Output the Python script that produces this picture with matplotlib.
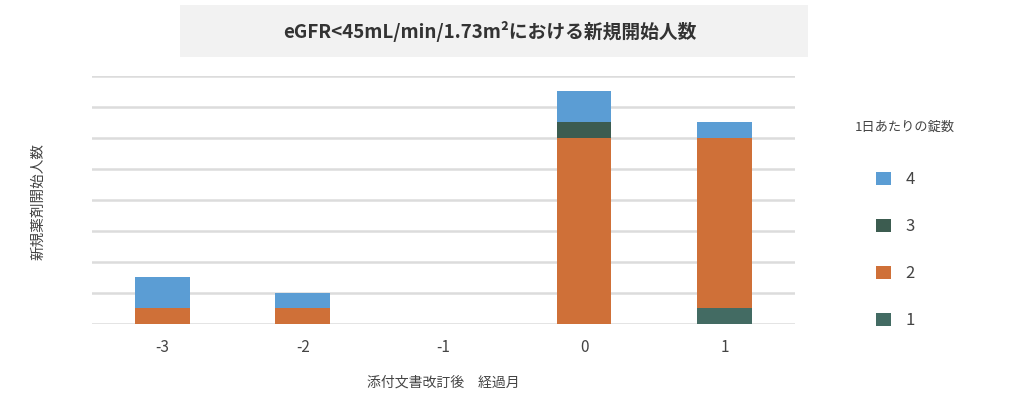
import numpy as np
import matplotlib.pyplot as plt
from matplotlib.patches import Rectangle, Patch

plt.rcParams['font.family'] = ['Noto Sans CJK JP', 'DejaVu Sans']

# データ
months = ['-3', '-2', '-1', '0', '1']
tab1 = [0, 0, 0, 0, 1]
tab2 = [1, 1, 0, 12, 11]
tab3 = [0, 0, 0, 1, 0]
tab4 = [2, 1, 0, 2, 1]
series_labels = ['1', '2', '3', '4']
colors = ['#436b63', '#cf7038', '#3c5c50', '#5b9dd4']

fig = plt.figure(figsize=(10.24, 4.12), dpi=100)
ax = fig.add_axes([0.0898, 0.2136, 0.6865, 0.602])

x = np.arange(len(months))
bottom = np.zeros(len(months))
for vals, c in zip([tab1, tab2, tab3, tab4], colors):
    ax.bar(x, vals, width=0.39, bottom=bottom, color=c, zorder=3)
    bottom += np.array(vals)

ax.set_xlim(-0.5, 4.5)
ax.set_ylim(0, 16)
ax.set_yticks(np.arange(0, 17, 2))
ax.set_yticklabels([])
ax.tick_params(axis='y', length=0)
ax.tick_params(axis='x', length=0, labelsize=11, colors='#444444', pad=11)
ax.set_xticks(x)
ax.set_xticklabels(months)
ax.grid(axis='y', color='#dcdcdc', linewidth=1.8, zorder=0)
for s in ax.spines.values():
    s.set_visible(False)

ax.set_xlabel('添付文書改訂後　経過月', fontsize=10, color='#444444', labelpad=14)
fig.text(0.037, 0.51, '新規薬剤開始人数', rotation=90, fontsize=10.5,
         color='#444444', ha='center', va='center')

# タイトル
fig.patches.append(Rectangle((180 / 1024, 1 - 57 / 412), 628 / 1024, 52 / 412,
                             transform=fig.transFigure, facecolor='#f2f2f2',
                             edgecolor='none'))
fig.text(490 / 1024, 1 - 31 / 412, 'eGFR<45mL/min/1.73m²における新規開始人数',
         fontsize=13.5, fontweight='bold', color='#333333', ha='center', va='center')

# 凡例
fig.text(855 / 1024, 1 - 127 / 412, '1日あたりの錠数', fontsize=9.5,
         color='#444444', ha='left', va='center')
handles = [Patch(facecolor=colors[i], label=series_labels[i]) for i in [3, 2, 1, 0]]
leg = fig.legend(handles=handles, loc='upper left', bbox_to_anchor=(868 / 1024, 1 - 163 / 412),
                 frameon=False, fontsize=12, labelspacing=1.8, handlelength=0.85,
                 handleheight=0.85, handletextpad=0.9, borderpad=0)
for t in leg.get_texts():
    t.set_color('#444444')

plt.savefig('out.png', dpi=100)
